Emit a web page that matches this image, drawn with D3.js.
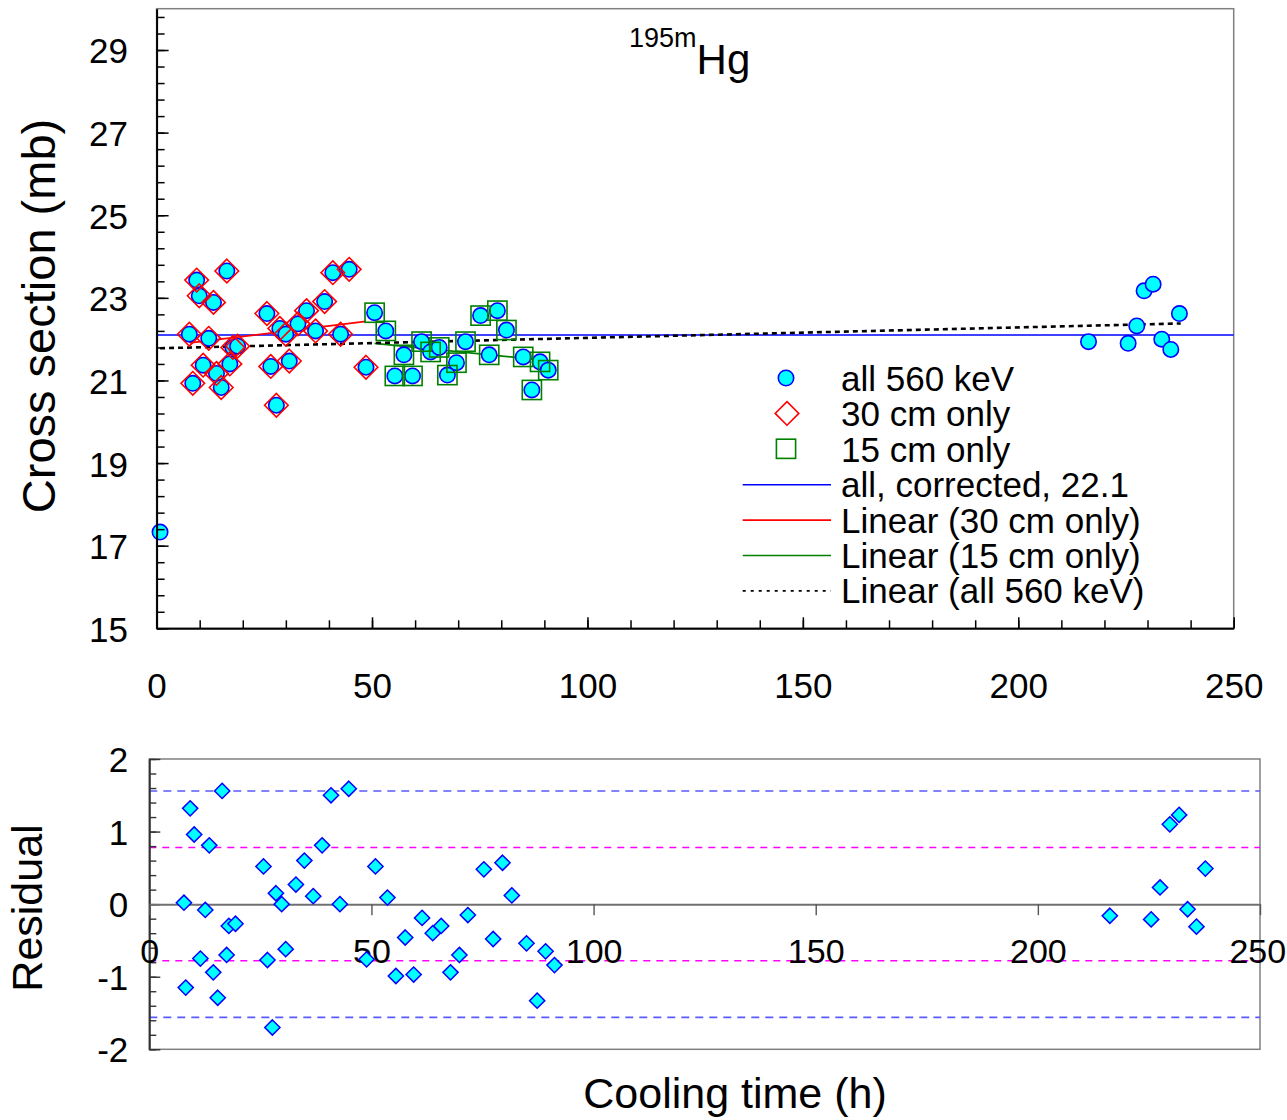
<!DOCTYPE html>
<html><head><meta charset="utf-8">
<script src="https://cdn.jsdelivr.net/npm/d3@7"></script>
<style>
html,body{margin:0;padding:0;background:#fff;}
svg text{font-family:"Liberation Sans",Arial,sans-serif;fill:#000;}
</style></head>
<body><svg id="c" width="1287" height="1120"></svg>
<script>
// ---- data ----
const t30  = [7.6, 8.4, 9.3, 9.9, 10.8, 12.1, 13.2, 13.9, 15.0, 16.3, 17.0, 17.7, 18.8, 25.6, 26.5, 27.8, 28.6, 30.0, 30.8, 32.8, 34.8, 36.9, 39.0, 40.9, 42.7, 44.7, 48.6];
const cs30 = [22.12, 20.93, 23.43, 23.05, 21.37, 22.02, 22.89, 21.17, 20.83, 23.65, 21.40, 21.80, 21.83, 22.62, 21.34, 20.40, 22.26, 22.12, 21.47, 22.37, 22.69, 22.20, 22.91, 23.61, 22.12, 23.69, 21.32];
const t15  = [50.6, 53.2, 55.3, 57.4, 59.4, 61.5, 63.6, 65.6, 67.5, 69.6, 71.7, 75.2, 77.2, 79.1, 81.2, 85.1, 87.1, 89.0, 90.9];
const cs15 = [22.64, 22.20, 21.11, 21.62, 21.11, 21.94, 21.69, 21.80, 21.13, 21.43, 21.94, 22.57, 21.62, 22.69, 22.22, 21.57, 20.77, 21.45, 21.25];
const tOther  = [0.8, 216.3, 225.5, 227.5, 229.2, 231.3, 233.3, 235.4, 237.4];
const csOther = [17.33, 21.94, 21.90, 22.32, 23.17, 23.33, 22.00, 21.75, 22.62];

const correctedValue = 22.1;
const fit30T = [7.7, 48.6],  fit30CS = [21.91, 22.43];
const fit15T = [50.6, 90.9], fit15CS = [21.90, 21.48];
const fitAllT = [0.8, 237.7], fitAllCS = [21.78, 22.38];

const tRes  = [7.8, 8.2, 9.2, 10.1, 11.5, 12.6, 13.5, 14.4, 15.4, 16.4, 17.4, 17.9, 19.4, 25.7, 26.6, 27.7, 28.5, 29.8, 30.7, 33.0, 34.9, 36.9, 38.9, 40.9, 42.9, 44.9, 48.9,
               50.9, 53.6, 55.5, 57.6, 59.5, 61.4, 63.8, 65.7, 67.8, 69.8, 71.7, 75.3, 77.4, 79.5, 81.6, 84.9, 87.3, 89.2, 91.2,
               216.2, 225.5, 227.5, 229.7, 231.8, 233.7, 235.7, 237.7];
const resid = [0.02, -1.15, 1.32, 0.96, -0.75, -0.08, 0.81, -0.94, -1.29, 1.56, -0.70, -0.30, -0.27, 0.52, -0.77, -1.70, 0.15, 0.00, -0.62, 0.27, 0.60, 0.11, 0.81, 1.50, 0.00, 1.59, -0.76,
               0.52, 0.09, -0.99, -0.46, -0.97, -0.19, -0.40, -0.30, -0.94, -0.70, -0.15, 0.48, -0.48, 0.57, 0.12, -0.54, -1.33, -0.65, -0.84,
               -0.16, -0.21, 0.23, 1.10, 1.23, -0.07, -0.31, 0.49];
const sigmaBlue = [1.56, -1.56];
const sigmaMagenta = [0.78, -0.78];

const xTicksTop = [0, 50, 100, 150, 200, 250];
const yTicksTop = [15, 17, 19, 21, 23, 25, 27, 29];
const yTicksRes = [-2, -1, 0, 1, 2];
const legendLabels = ["all 560 keV", "30 cm only", "15 cm only", "all, corrected, 22.1", "Linear (30 cm only)", "Linear (15 cm only)", "Linear (all 560 keV)"];

// ---- drawing ----
const svg = d3.select("#c");
const CYAN = "#00ffff", BLUE = "#0000ff", RED = "#ff0000", GREEN = "#008000";
const FONT = '"Liberation Sans",Arial,sans-serif';

const x = d3.scaleLinear([0, 250], [156.6, 1233.7]);
const y = d3.scaleLinear([15, 30], [628.3, 8.7]);
const xr = d3.scaleLinear([0, 250], [149.3, 1260]);
const yr = d3.scaleLinear([-2, 2], [1049.3, 759]);

// top frame
svg.append("rect").attr("x", x(0)).attr("y", y(30)).attr("width", x(250) - x(0)).attr("height", y(15) - y(30))
  .attr("fill", "none").attr("stroke", "#808080").attr("stroke-width", 1.5);

// lines
const line = d3.line().x(d => x(d[0])).y(d => y(d[1]));
svg.append("path").attr("d", line([[0, correctedValue], [250, correctedValue]])).attr("stroke", BLUE).attr("stroke-width", 1.6).attr("fill", "none");
svg.append("path").attr("d", line(fit30T.map((t, i) => [t, fit30CS[i]]))).attr("stroke", RED).attr("stroke-width", 1.8).attr("fill", "none");
svg.append("path").attr("d", line(fit15T.map((t, i) => [t, fit15CS[i]]))).attr("stroke", GREEN).attr("stroke-width", 1.8).attr("fill", "none");
svg.append("path").attr("d", line(fitAllT.map((t, i) => [t, fitAllCS[i]]))).attr("stroke", "#000").attr("stroke-width", 2.6).attr("stroke-dasharray", "5,4").attr("fill", "none");

// circles (all 560 keV)
const allT = tOther.slice(0, 1).concat(t30, t15, tOther.slice(1));
const allCS = csOther.slice(0, 1).concat(cs30, cs15, csOther.slice(1));
svg.append("g").selectAll("circle").data(allT).join("circle")
  .attr("cx", d => x(d)).attr("cy", (d, i) => y(allCS[i])).attr("r", 7.7)
  .attr("fill", CYAN).attr("stroke", BLUE).attr("stroke-width", 1.6);

const diamond = (cx, cy, h) => `M${cx},${cy - h}L${cx + h},${cy}L${cx},${cy + h}L${cx - h},${cy}Z`;
svg.append("g").selectAll("path").data(t30).join("path")
  .attr("d", (d, i) => diamond(x(d), y(cs30[i]), 11.8))
  .attr("fill", "none").attr("stroke", RED).attr("stroke-width", 1.6);
svg.append("g").selectAll("rect").data(t15).join("rect")
  .attr("x", d => x(d) - 9.6).attr("y", (d, i) => y(cs15[i]) - 9.6).attr("width", 19.2).attr("height", 19.2)
  .attr("fill", "none").attr("stroke", GREEN).attr("stroke-width", 1.6);

// top axes
const fs = 35;
const gyMinor = svg.append("g").attr("transform", `translate(${x(0)},0)`)
  .call(d3.axisLeft(y).tickValues(d3.range(0, 38).map(k => 15 + 0.4 * k)).tickSize(-8).tickFormat(""));
gyMinor.select(".domain").remove();
const gy = svg.append("g").attr("transform", `translate(${x(0)},0)`)
  .call(d3.axisLeft(y).tickValues(yTicksTop).tickSize(-12).tickSizeOuter(0).tickPadding(28.6));
gy.select(".domain").attr("stroke-width", 2).attr("stroke", "#000");
gy.selectAll("text").attr("font-size", fs).attr("dy", "0.37em").style("font-family", FONT);

const gxMinor = svg.append("g").attr("transform", `translate(0,${y(15)})`)
  .call(d3.axisBottom(x).tickValues(d3.range(0, 26).map(k => k * 10)).tickSize(-8).tickFormat(""));
gxMinor.select(".domain").remove();
const gx = svg.append("g").attr("transform", `translate(0,${y(15)})`)
  .call(d3.axisBottom(x).tickValues(xTicksTop).tickSize(-11).tickSizeOuter(0).tickPadding(45));
gx.select(".domain").attr("stroke-width", 2).attr("stroke", "#000");
gx.selectAll("text").attr("font-size", fs).style("font-family", FONT);
[gxMinor, gx, gyMinor, gy].forEach(g => g.selectAll("line").attr("stroke-width", 1.5));

// axis title & title
svg.append("text").attr("transform", "translate(55,316) rotate(-90)").attr("text-anchor", "middle")
  .attr("font-size", 47).text("Cross section (mb)");
const title = svg.append("text").attr("x", 629).attr("y", 74);
title.append("tspan").attr("font-size", 27).attr("dy", -27).text("195m");
title.append("tspan").attr("font-size", 42).attr("dy", 27).text("Hg");

// legend
const lgY = d3.range(legendLabels.length).map(i => 391 + i * 35.4);
svg.append("g").selectAll("text").data(legendLabels).join("text")
  .attr("x", 841).attr("y", (d, i) => lgY[i]).attr("font-size", 35).text(d => d);
svg.append("circle").attr("cx", 786).attr("cy", lgY[0] - 13).attr("r", 7.7).attr("fill", CYAN).attr("stroke", BLUE).attr("stroke-width", 1.6);
svg.append("path").attr("d", diamond(787, lgY[1] - 13, 11.8)).attr("fill", "none").attr("stroke", RED).attr("stroke-width", 1.6);
svg.append("rect").attr("x", 786 - 9.6).attr("y", lgY[2] - 13 - 9.6).attr("width", 19.2).attr("height", 19.2).attr("fill", "none").attr("stroke", GREEN).attr("stroke-width", 1.6);
const lgLines = [[BLUE, null, 1.6], [RED, null, 1.6], [GREEN, null, 1.6], ["#000", "3,5", 1.8]];
lgLines.forEach((s, i) => {
  svg.append("line").attr("x1", 742.7).attr("x2", 831).attr("y1", lgY[3 + i] - 12.5).attr("y2", lgY[3 + i] - 12.5)
    .attr("stroke", s[0]).attr("stroke-width", s[2]).attr("stroke-dasharray", s[1]);
});

// ---- residual panel ----
svg.append("rect").attr("x", xr(0)).attr("y", yr(2)).attr("width", xr(250) - xr(0)).attr("height", yr(-2) - yr(2))
  .attr("fill", "none").attr("stroke", "#808080").attr("stroke-width", 1.5);

sigmaBlue.forEach(v => svg.append("line").attr("x1", xr(0)).attr("x2", xr(250)).attr("y1", yr(v)).attr("y2", yr(v))
  .attr("stroke", "#5a5aff").attr("stroke-width", 1.6).attr("stroke-dasharray", "8,6"));
sigmaMagenta.forEach(v => svg.append("line").attr("x1", xr(0)).attr("x2", xr(250)).attr("y1", yr(v)).attr("y2", yr(v))
  .attr("stroke", "#ff00ff").attr("stroke-width", 1.4).attr("stroke-dasharray", "7,6"));

const resFmt = d => (d < 0 ? "-" + Math.abs(d) : String(d));
const gryMinor = svg.append("g").attr("transform", `translate(${xr(0)},0)`)
  .call(d3.axisLeft(yr).tickValues(d3.range(0, 21).map(k => -2 + 0.2 * k)).tickSize(-7).tickFormat(""));
gryMinor.select(".domain").remove();
gryMinor.selectAll("line").attr("stroke", "#333").attr("stroke-width", 1.4);
const gry = svg.append("g").attr("transform", `translate(${xr(0)},0)`)
  .call(d3.axisLeft(yr).tickValues(yTicksRes).tickSize(-11).tickSizeOuter(0).tickPadding(21).tickFormat(resFmt));
gry.select(".domain").attr("stroke", "#333").attr("stroke-width", 2);
gry.selectAll("line").attr("stroke", "#333").attr("stroke-width", 1.4);
gry.selectAll("text").attr("font-size", fs).attr("dy", "0.36em").style("font-family", FONT);

const grx = svg.append("g").attr("transform", `translate(0,${yr(0)})`)
  .call(d3.axisBottom(xr).tickValues(xTicksTop).tickSize(11).tickSizeOuter(0).tickPadding(24));
grx.select(".domain").attr("stroke", "#707070").attr("stroke-width", 2);
grx.selectAll("line").attr("stroke", "#555").attr("stroke-width", 1.4);
grx.selectAll("text").attr("font-size", 34).style("font-family", FONT)
  .attr("dx", d => (d === 250 ? "-0.08em" : null));

svg.append("g").selectAll("path").data(tRes).join("path")
  .attr("d", (d, i) => diamond(xr(d), yr(resid[i]), 7.6))
  .attr("fill", CYAN).attr("stroke", BLUE).attr("stroke-width", 1.5);

svg.append("text").attr("transform", "translate(42,908) rotate(-90)").attr("text-anchor", "middle")
  .attr("font-size", 43).text("Residual");
svg.append("text").attr("x", 735).attr("y", 1108).attr("text-anchor", "middle").attr("font-size", 43).text("Cooling time (h)");
</script></body></html>
